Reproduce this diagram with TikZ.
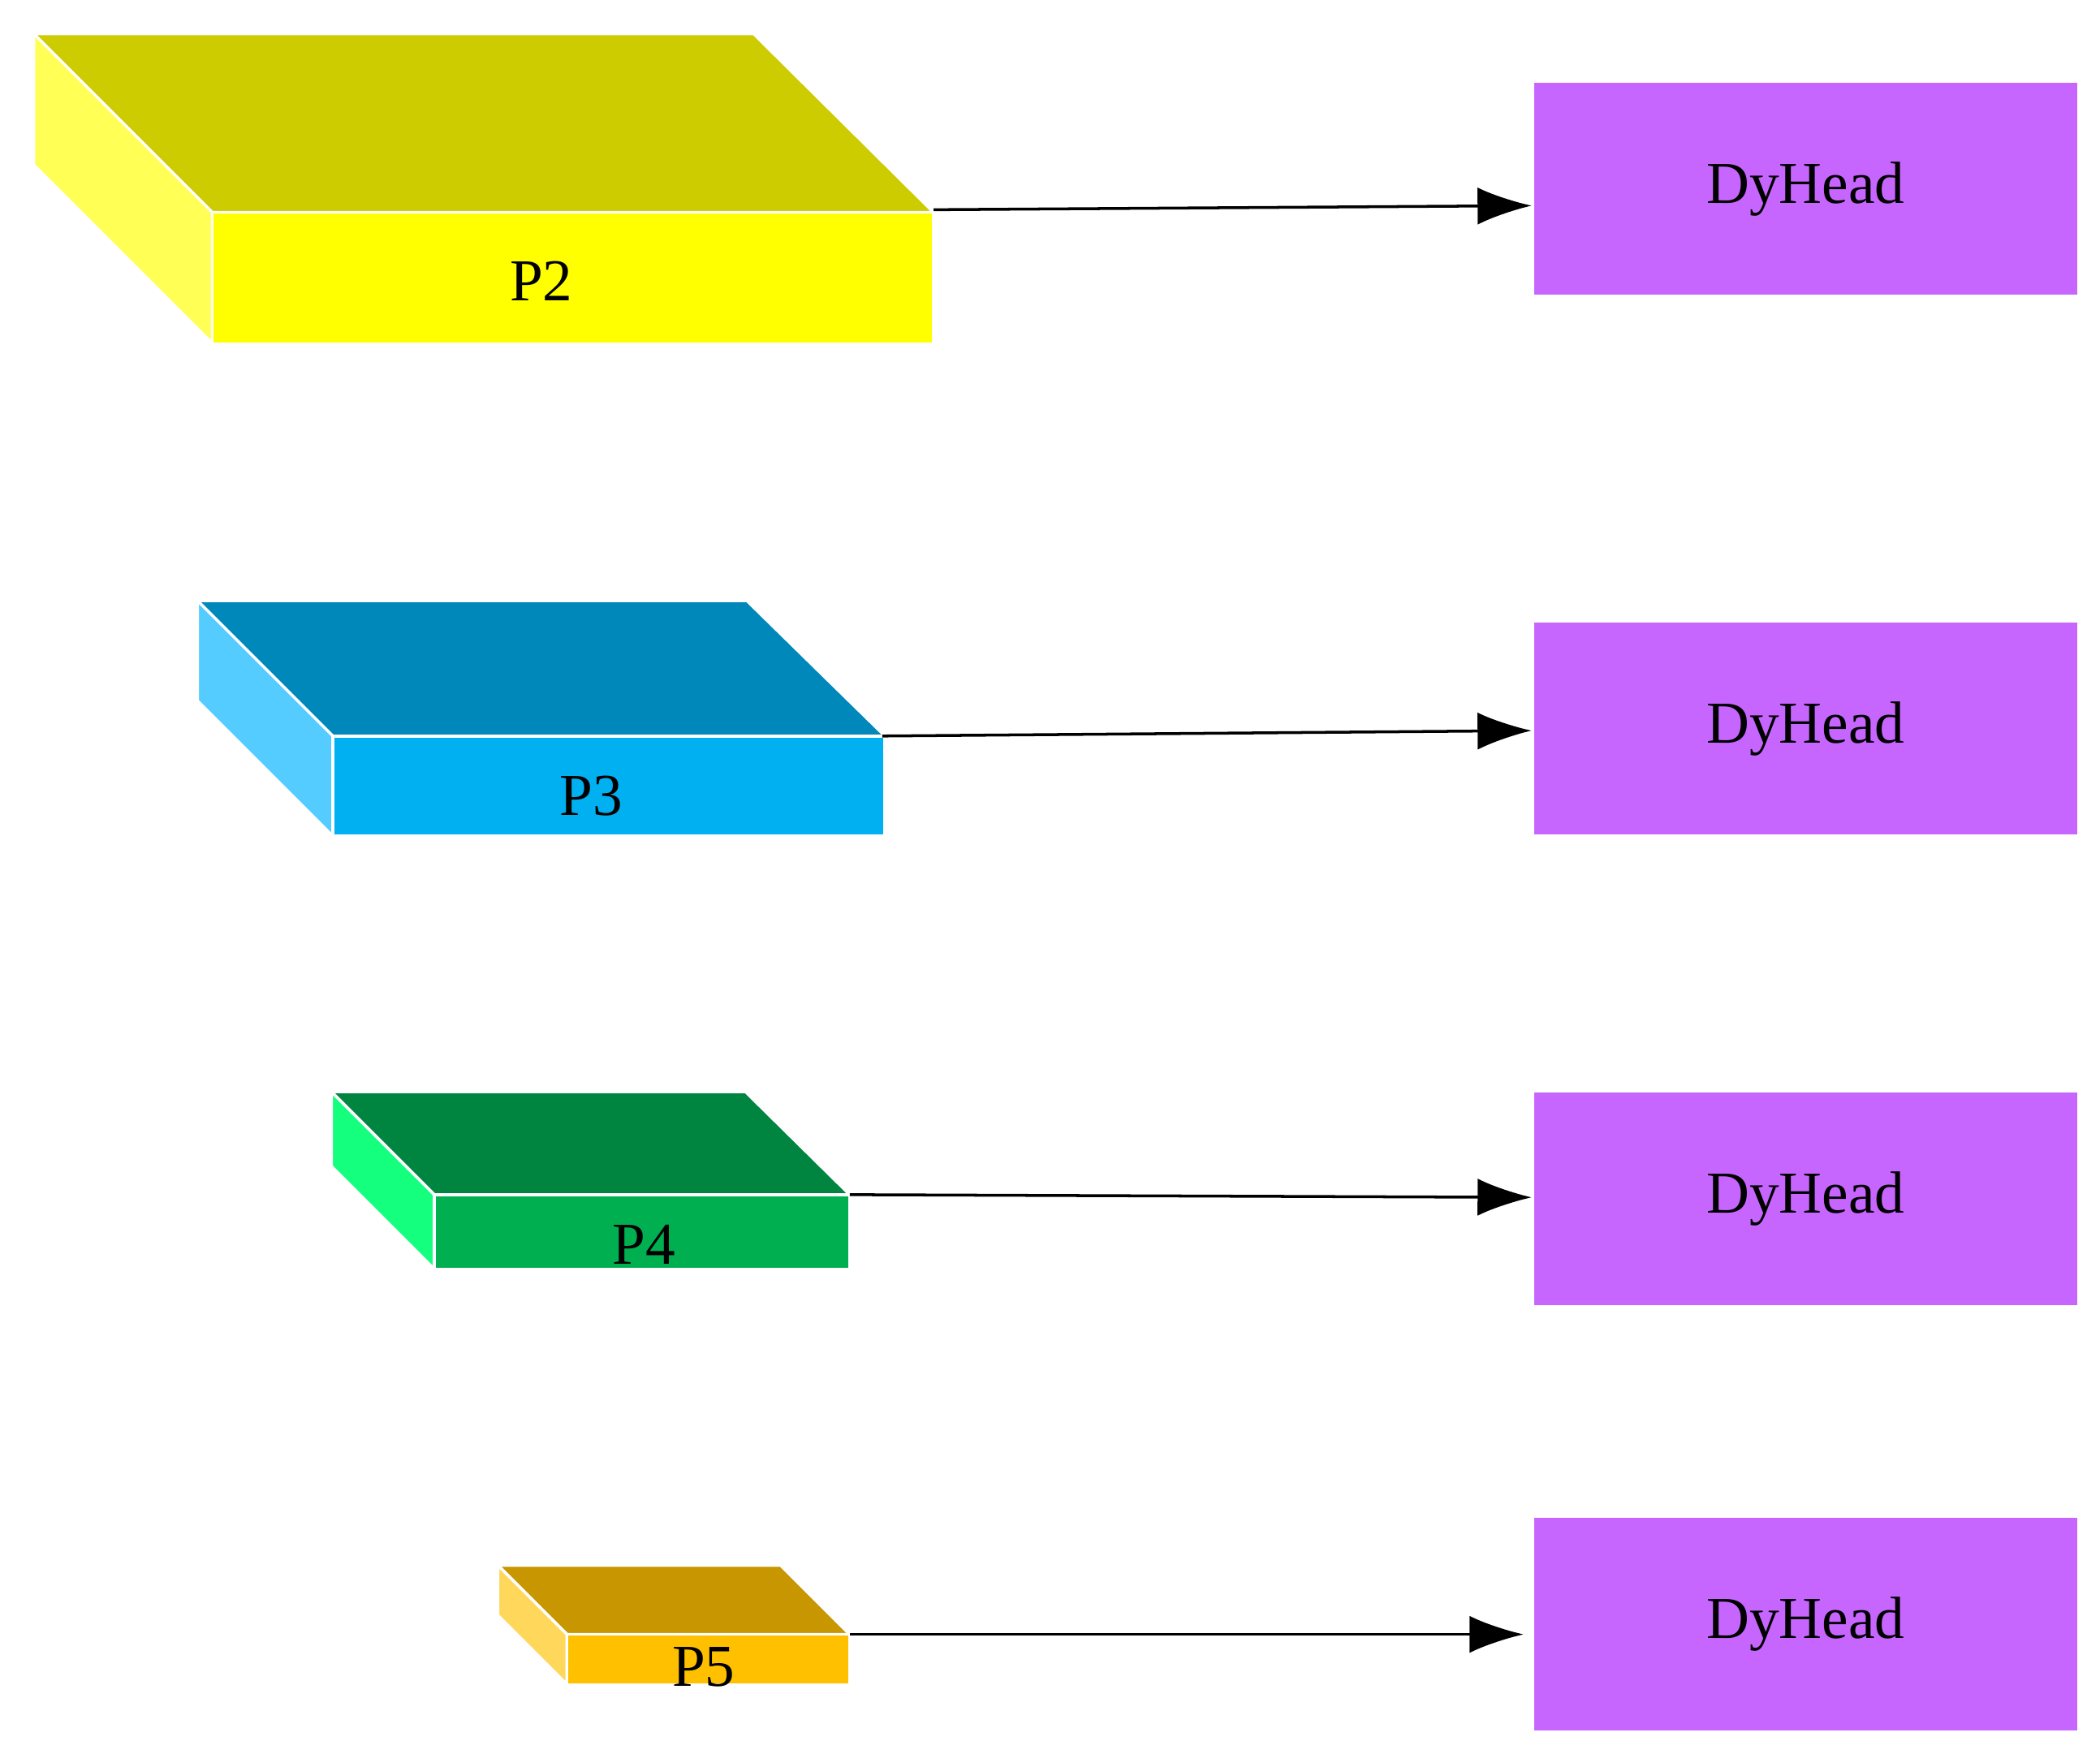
\documentclass[tikz,border=0pt]{standalone}
\usepackage{fontspec}
\setmainfont{TeX Gyre Heros}
\setmainfont{Liberation Serif}
\usetikzlibrary{arrows.meta}
\definecolor{dy}{HTML}{C766FF}
\begin{document}
\begin{tikzpicture}[x=0.02cm,y=-0.02cm,
  face/.style={draw=white,line width=1.2pt,line join=round},
  lbl/.style={font=\fontsize{25}{30}\selectfont},
  dyh/.style={fill=dy,minimum width=8.02cm,minimum height=3.14cm,inner sep=0pt,font=\fontsize{25}{30}\selectfont},
  arr/.style={-{Latex[length=0.8cm,width=0.55cm]},line width=1.2pt}]
\useasboundingbox (0,0) rectangle (1552,1296);
% P2
\fill[face,fill={rgb,255:red,204;green,204;blue,0}] (157,157)--(690,157)--(557,25)--(25,25)--cycle;
\fill[face,fill={rgb,255:red,255;green,255;blue,85}] (25,25)--(157,157)--(157,254)--(25,122)--cycle;
\fill[face,fill={rgb,255:red,255;green,255;blue,0}] (157,157) rectangle (690,254);
\node[lbl] (p2) at (400,208) {P2};
% P3
\fill[face,fill={rgb,255:red,0;green,136;blue,187}] (246,544)--(654,544)--(552,444)--(146,444)--cycle;
\fill[face,fill={rgb,255:red,85;green,204;blue,255}] (146,444)--(246,544)--(246,618)--(146,518)--cycle;
\fill[face,fill={rgb,255:red,0;green,176;blue,240}] (246,544) rectangle (654,618);
\node[lbl] (p3) at (437,588) {P3};
% P4
\fill[face,fill={rgb,255:red,0;green,133;blue,64}] (321,883)--(628,883)--(551,807)--(245,807)--cycle;
\fill[face,fill={rgb,255:red,21;green,255;blue,127}] (245,807)--(321,883)--(321,938)--(245,862)--cycle;
\fill[face,fill={rgb,255:red,0;green,176;blue,80}] (321,883) rectangle (628,938);
\node[lbl] (p4) at (476,920) {P4};
% P5
\fill[face,fill={rgb,255:red,200;green,150;blue,0}] (419,1208)--(628,1208)--(577,1157)--(368,1157)--cycle;
\fill[face,fill={rgb,255:red,255;green,215;blue,90}] (368,1157)--(419,1208)--(419,1245)--(368,1194)--cycle;
\fill[face,fill={rgb,255:red,255;green,192;blue,0}] (419,1208) rectangle (628,1245);
\node[lbl] (p5) at (520,1232) {P5};
% source points
\coordinate (s2) at (690,155);
\coordinate (s3) at (652,544);
\coordinate (s4) at (628,883);
\coordinate (s5) at (628,1208);
% DyHead
\node[dyh] (d2) at (1334.5,139.5) {DyHead};
\node[dyh] (d3) at (1334.5,538.5) {DyHead};
\node[dyh] (d4) at (1334.5,886) {DyHead};
\node[dyh] (d5) at (1334.5,1200.5) {DyHead};
\coordinate (t2) at (1132,152);
\coordinate (t3) at (1132,540);
\coordinate (t4) at (1132,885);
\coordinate (t5) at (1126,1208);
\draw[arr] (s2)--(t2);
\draw[arr] (s3)--(t3);
\draw[arr] (s4)--(t4);
\draw[arr] (s5)--(t5);
\end{tikzpicture}
\end{document}
